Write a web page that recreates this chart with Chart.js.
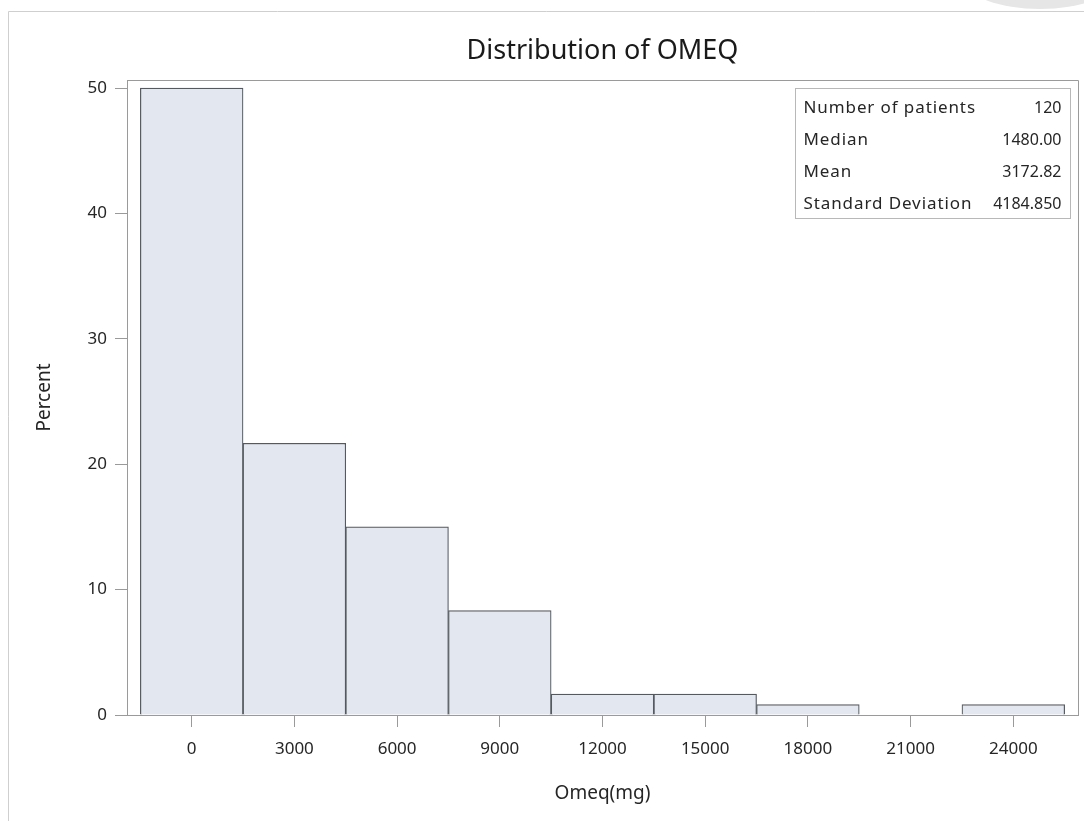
<!DOCTYPE html>
<html>
<head>
<meta charset="utf-8">
<title>Distribution of OMEQ</title>
<script src="https://cdn.jsdelivr.net/npm/chart.js@4.4.1/dist/chart.umd.min.js"></script>
<style>
  html, body { margin: 0; padding: 0; background: #fff; }
  #wrap { position: relative; width: 1084px; height: 821px; }
  canvas { display: block; }
</style>
</head>
<body>
<div id="wrap"><canvas id="hist" width="1084" height="821"></canvas></div>
<script>
// Histogram bins (midpoints, mg) and percent of patients in each bin
const binMidpoints = [0, 3000, 6000, 9000, 12000, 15000, 18000, 21000, 24000];
const percents = [50, 21.67, 15, 8.33, 1.67, 1.67, 0.83, 0, 0.83];
const xTickValues = [0, 3000, 6000, 9000, 12000, 15000, 18000, 21000, 24000];
const yTickValues = [0, 10, 20, 30, 40, 50];

// Summary statistics shown in the inset table
const statLabels = ['Number of patients', 'Median', 'Mean', 'Standard Deviation'];
const statValues = ['120', '1480.00', '3172.82', '4184.850'];

const FONT = "'Noto Sans', 'Open Sans', sans-serif";
const TEXT = '#262626';
const AXIS = '#9a9a9a';

// Page frame lines and the emblem peeking in at the top-right corner
const pageFrame = {
  id: 'pageFrame',
  beforeDraw(chart) {
    const ctx = chart.ctx;
    ctx.save();
    ctx.fillStyle = '#e6e6e6';
    ctx.beginPath();
    ctx.ellipse(1040, -20, 75, 29, 0, 0, Math.PI * 2);
    ctx.fill();
    ctx.strokeStyle = '#cfcfcf';
    ctx.lineWidth = 1;
    ctx.beginPath();
    ctx.moveTo(8.5, 821);
    ctx.lineTo(8.5, 11.5);
    ctx.lineTo(1084, 11.5);
    ctx.stroke();
    ctx.restore();
  }
};

// Closes the plot area on the top and right sides
const plotFrame = {
  id: 'plotFrame',
  afterDraw(chart) {
    const {ctx, chartArea: a} = chart;
    ctx.save();
    ctx.strokeStyle = AXIS;
    ctx.lineWidth = 1;
    ctx.beginPath();
    ctx.moveTo(Math.round(a.left) + 0.5, Math.round(a.top) + 0.5);
    ctx.lineTo(Math.round(a.right) + 0.5, Math.round(a.top) + 0.5);
    ctx.lineTo(Math.round(a.right) + 0.5, Math.round(a.bottom) + 0.5);
    ctx.stroke();
    ctx.restore();
  }
};

// Inset table of summary statistics in the upper-right of the plot area
const statsInset = {
  id: 'statsInset',
  afterDraw(chart) {
    const {ctx, chartArea: a} = chart;
    const w = 275, h = 130;
    const x = Math.round(a.right - 8 - w) + 0.5;
    const y = Math.round(a.top + 8) + 0.5;
    ctx.save();
    ctx.fillStyle = '#fff';
    ctx.fillRect(x, y, w, h);
    ctx.strokeStyle = '#b8b8b8';
    ctx.lineWidth = 1;
    ctx.strokeRect(x, y, w, h);
    ctx.fillStyle = TEXT;
    ctx.textBaseline = 'middle';
    statLabels.forEach((lab, i) => {
      const ty = y + 20 + i * 32;
      ctx.font = '17px ' + FONT;
      ctx.letterSpacing = '0.9px';
      ctx.textAlign = 'left';
      ctx.fillText(lab, x + 8, ty);
      ctx.font = '16px ' + FONT;
      ctx.letterSpacing = '0px';
      ctx.textAlign = 'right';
      ctx.fillText(statValues[i], x + w - 9, ty);
    });
    ctx.restore();
  }
};

new Chart(document.getElementById('hist'), {
  type: 'bar',
  data: {
    datasets: [{
      data: binMidpoints.map((m, i) => ({x: m, y: percents[i]})),
      backgroundColor: '#e3e7f0',
      borderColor: '#555a60',
      borderWidth: 1.2,
      barPercentage: 1,
      categoryPercentage: 1
    }]
  },
  options: {
    responsive: false,
    animation: false,
    devicePixelRatio: 1,
    layout: { padding: { left: 0, right: 6, top: 0, bottom: 0 } },
    plugins: {
      legend: { display: false },
      tooltip: { enabled: false },
      title: {
        display: true,
        fullSize: false,
        text: 'Distribution of OMEQ',
        color: '#1a1a1a',
        font: { family: FONT, size: 27, weight: 'normal' },
        padding: { top: 35, bottom: 12.6 }
      }
    },
    scales: {
      x: {
        type: 'linear',
        offset: false,
        min: -1890,
        max: 25890,
        afterBuildTicks: s => { s.ticks = xTickValues.map(v => ({value: v})); },
        afterFit: s => { s.height = 106; },
        ticks: {
          color: TEXT,
          font: { family: FONT, size: 17 },
          padding: 12,
          maxRotation: 0,
          callback: v => String(v)
        },
        grid: { offset: false, drawOnChartArea: false, drawTicks: true, tickLength: 12, color: AXIS },
        border: { display: true, color: AXIS },
        title: {
          display: true,
          text: 'Omeq(mg)',
          color: TEXT,
          font: { family: FONT, size: 19 },
          padding: { top: 0, bottom: 16 }
        }
      },
      y: {
        min: 0,
        max: 50.65,
        afterBuildTicks: s => { s.ticks = yTickValues.map(v => ({value: v})); },
        afterFit: s => { s.width = 127; },
        ticks: {
          color: TEXT,
          font: { family: FONT, size: 17 },
          padding: 8
        },
        grid: { drawOnChartArea: false, drawTicks: true, tickLength: 12, color: AXIS },
        border: { display: true, color: AXIS },
        title: {
          display: true,
          text: 'Percent',
          color: TEXT,
          font: { family: FONT, size: 19 },
          padding: { top: 33, bottom: 0 }
        }
      }
    }
  },
  plugins: [pageFrame, plotFrame, statsInset]
});
</script>
</body>
</html>
